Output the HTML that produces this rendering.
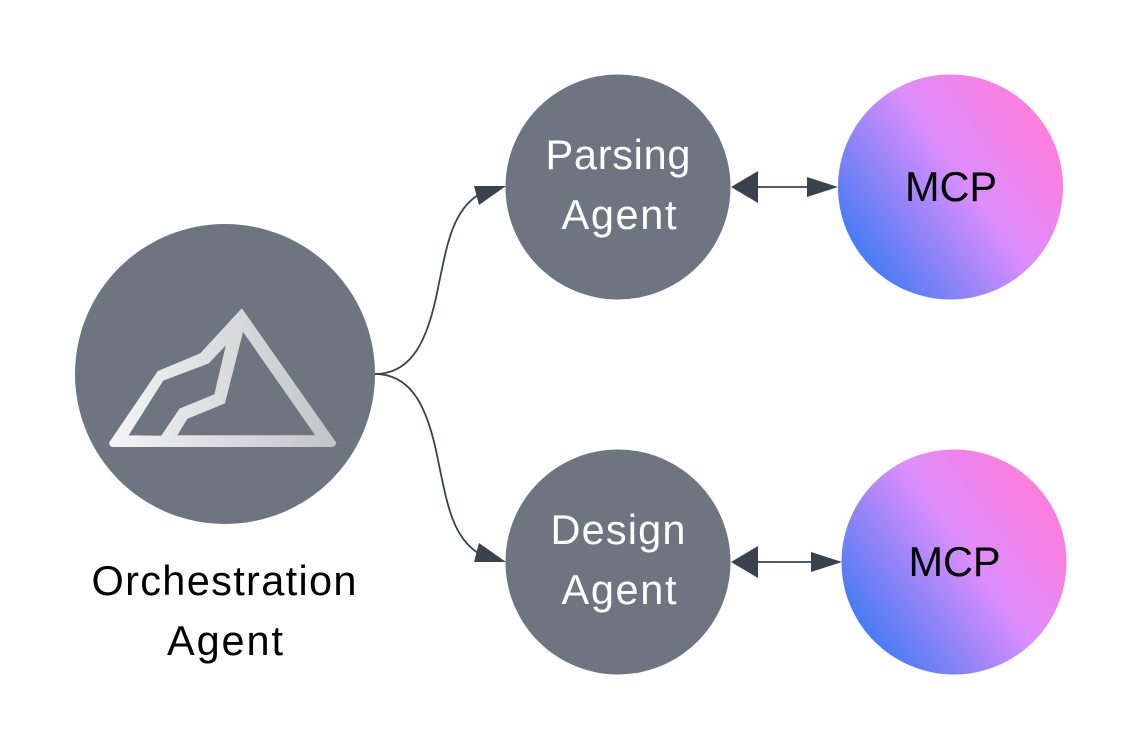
<!DOCTYPE html>
<html><head><meta charset="utf-8"><style>
html,body{margin:0;padding:0;background:#fff}
svg{display:block}
text{font-family:"Liberation Sans",sans-serif;font-size:41.5px;text-anchor:middle}
</style></head><body>
<svg width="1142" height="750" viewBox="0 0 1142 750" xmlns="http://www.w3.org/2000/svg">
<defs>
<linearGradient id="g1" gradientUnits="userSpaceOnUse" x1="863" y1="255" x2="1043" y2="125">
<stop offset="0" stop-color="#4a7cf3"/><stop offset=".57" stop-color="#dd8dfd"/><stop offset="1" stop-color="#ff7ddd"/>
</linearGradient>
<linearGradient id="g2" gradientUnits="userSpaceOnUse" x1="866.5" y1="630" x2="1046.5" y2="500">
<stop offset="0" stop-color="#4a7cf3"/><stop offset=".57" stop-color="#dd8dfd"/><stop offset="1" stop-color="#ff7ddd"/>
</linearGradient>
<linearGradient id="m" gradientUnits="userSpaceOnUse" x1="109" y1="0" x2="336" y2="0">
<stop offset="0" stop-color="#f4f4f4"/><stop offset="1" stop-color="#c2c4c8"/>
</linearGradient>
</defs>
<circle cx="225" cy="374" r="150" fill="#6e7480"/>
<circle cx="618" cy="187" r="112.5" fill="#6e7480"/>
<circle cx="618" cy="562" r="112.5" fill="#6e7480"/>
<circle cx="950.5" cy="187" r="112.5" fill="url(#g1)"/>
<circle cx="954" cy="562" r="112.5" fill="url(#g2)"/>
<path fill="url(#m)" fill-rule="evenodd" stroke="url(#m)" stroke-width="1.6" stroke-linejoin="round" d="M241.7 309.5L200.7 354L158.3 371.7L109.8 443Q110.5 446.2 113 446.2L331.7 446.2Q334.5 446.2 335.5 443ZM242.7 330L316.7 436L176 436L186.7 418.3L224.3 402.7ZM227.3 342.7L215 395L180 409.3L161.7 436.5L127.3 436L162.7 380L208.3 362.7Z"/>
<g fill="none" stroke="#3a424e" stroke-width="1.8">
<path d="M375 374C412 374 428 340 438 288C447 245 452 212 478 195"/>
<path d="M375 374C412 374 428 408 438 460C447 503 452 536 478 553"/>
<path d="M757 187H812"/>
<path d="M757 562H815"/>
</g>
<g fill="#3a424e">
<path d="M506 186L474 186L479 205Z"/>
<path d="M506 562L474 562L479 543Z"/>
<path d="M731 187L758 171V203Z"/>
<path d="M838 187L807 177V197Z"/>
<path d="M731 562L758 546V578Z"/>
<path d="M842 562L811 552V572Z"/>
</g>
<g fill="#fff">
<text x="618" y="169" textLength="145" lengthAdjust="spacing">Parsing</text>
<text x="619" y="229" textLength="115" lengthAdjust="spacing">Agent</text>
<text x="618" y="544" textLength="135" lengthAdjust="spacing">Design</text>
<text x="619" y="604" textLength="115" lengthAdjust="spacing">Agent</text>
</g>
<g fill="#000">
<text x="224" y="595" textLength="265" lengthAdjust="spacing">Orchestration</text>
<text x="225" y="655" textLength="116" lengthAdjust="spacing">Agent</text>
<text x="951" y="201" textLength="92" lengthAdjust="spacing">MCP</text>
<text x="954.5" y="576" textLength="92" lengthAdjust="spacing">MCP</text>
</g>
</svg>
</body></html>
